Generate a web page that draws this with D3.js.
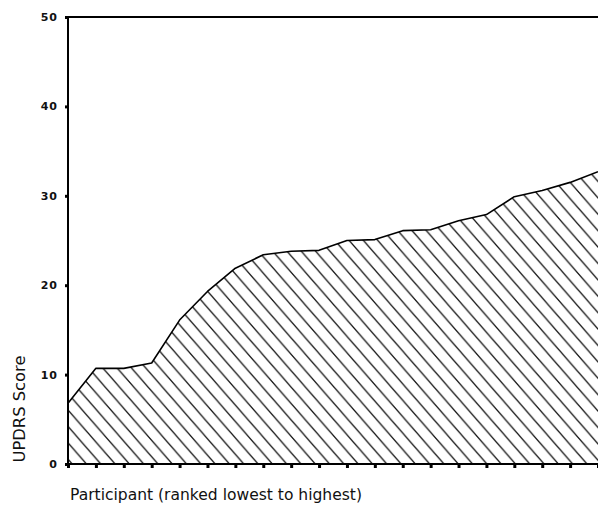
<!DOCTYPE html>
<html><head><meta charset="utf-8">
<script src="https://cdn.jsdelivr.net/npm/d3@7"></script>
<style>body{margin:0;background:#fff;overflow:hidden}</style>
</head><body><svg id="c" width="598" height="508"></svg>
<script>
const participants = d3.range(1, 21);
const scores = [6.8, 10.7, 10.7, 11.3, 16.1, 19.3, 21.9, 23.4, 23.8, 23.9, 25.0, 25.1, 26.1, 26.2, 27.2, 27.9, 29.9, 30.6, 31.5, 32.7];
const yTicks = [0, 10, 20, 30, 40, 50];
const xTitle = "Participant (ranked lowest to highest)";
const yTitle = "UPDRS Score";

const data = participants.map((p, i) => ({p, v: scores[i]}));
const svg = d3.select("#c");
const x = d3.scalePoint().domain(participants).range([68, 598]);
const y = d3.scaleLinear().domain([0, 50]).range([464, 17]);

const w = 14.3, h = 16.4;
const pat = svg.append("defs").append("pattern")
  .attr("id", "hatch").attr("patternUnits", "userSpaceOnUse")
  .attr("width", w).attr("height", h)
  .attr("x", 68).attr("y", 0);
pat.append("path")
  .attr("d", `M${-w},${-h}L${2*w},${2*h}M${-2*w},${-h}L${w},${2*h}M0,${-h}L${3*w},${2*h}`)
  .attr("stroke", "#111").attr("stroke-width", 1.3).attr("fill", "none");

const area = d3.area().x(d => x(d.p)).y0(y(0)).y1(d => y(d.v)).curve(d3.curveLinear);
const line = d3.line().x(d => x(d.p)).y(d => y(d.v)).curve(d3.curveLinear);

svg.append("path").datum(data).attr("d", area).attr("fill", "url(#hatch)");
svg.append("path").datum(data).attr("d", line).attr("fill", "none").attr("stroke", "#000").attr("stroke-width", 1.6).attr("stroke-linejoin", "round");

svg.append("line").attr("x1", 68).attr("x2", 598).attr("y1", y(50)).attr("y2", y(50)).attr("stroke", "#000").attr("stroke-width", 1.8);

const yAxis = svg.append("g").attr("transform", "translate(68,0)")
  .call(d3.axisLeft(y).tickValues(yTicks).tickSize(3).tickPadding(7));
yAxis.select(".domain").remove();
yAxis.selectAll(".tick line").attr("stroke", "#000").attr("stroke-width", 3);
yAxis.selectAll(".tick text").attr("font-family", "DejaVu Sans").attr("font-size", 11).attr("font-weight", "bold").attr("letter-spacing", 1).attr("fill", "#111");

const xAxis = svg.append("g").attr("transform", `translate(0,${y(0)})`)
  .call(d3.axisBottom(x).tickSize(4).tickFormat(""));
xAxis.select(".domain").remove();
xAxis.selectAll(".tick line").attr("stroke", "#000").attr("stroke-width", 3);

svg.append("line").attr("x1", 68).attr("x2", 68).attr("y1", y(50)).attr("y2", y(0) + 1).attr("stroke", "#000").attr("stroke-width", 2);
svg.append("line").attr("x1", 67).attr("x2", 598).attr("y1", y(0)).attr("y2", y(0)).attr("stroke", "#000").attr("stroke-width", 2);

svg.append("text").attr("x", 70).attr("y", 500)
  .attr("font-family", "DejaVu Sans").attr("font-size", 15).attr("fill", "#111")
  .attr("textLength", 292).attr("lengthAdjust", "spacingAndGlyphs")
  .text(xTitle);
svg.append("text").attr("transform", "translate(25,409) rotate(-90)").attr("text-anchor", "middle")
  .attr("font-family", "DejaVu Sans").attr("font-size", 15).attr("fill", "#111")
  .attr("textLength", 107).attr("lengthAdjust", "spacingAndGlyphs")
  .text(yTitle);
</script></body></html>
